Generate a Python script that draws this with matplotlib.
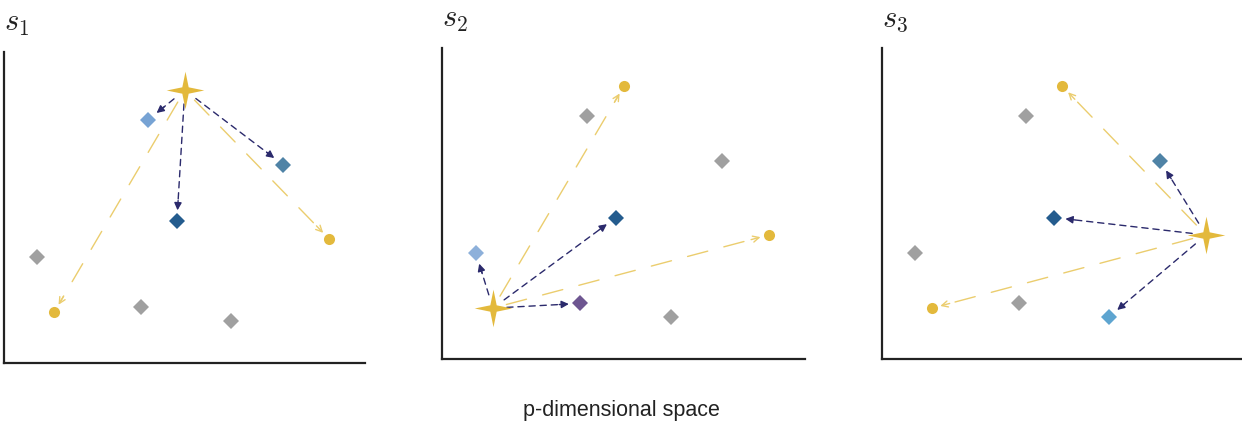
import matplotlib
matplotlib.use("Agg")
import matplotlib.pyplot as plt
import numpy as np

# Shared positions of the nine samples in the p-dimensional space (0-100 scale)
point_x = [50.1, 39.9, 77.3, 47.9, 90.0, 14.0, 9.3, 38.0, 63.0]
point_y = [87.7, 78.1, 63.7, 45.5, 39.9, 16.4, 34.1, 17.9, 13.5]

# Per-panel roles: anchor sample, its near neighbours (with colours), far samples
panel_titles = [r"$s_1$", r"$s_2$", r"$s_3$"]
anchors = [0, 5, 4]
near_idx = [[1, 3, 2], [6, 3, 7], [2, 3, 8]]
near_colors = [["#77a3d4", "#245c8e", "#4f83a6"],
               ["#8db0da", "#245c8e", "#6e5691"],
               ["#4f83a6", "#245c8e", "#5ea5d0"]]
far_idx = [[4, 5], [0, 4], [0, 5]]
other_idx = [[6, 7, 8], [1, 2, 8], [1, 6, 7]]

xlabel = "p-dimensional space"

GOLD = "#e3b93c"
GOLD_LINE = "#ebcd6e"
NAVY = "#2b2a6c"
GRAY = "#a0a0a0"

plt.rcParams["mathtext.fontset"] = "cm"

# four-pointed star for the anchor sample
r = 0.17
star = [(0, 1), (r, r), (1, 0), (r, -r),
        (0, -1), (-r, -r), (-1, 0), (-r, r)]


def dashed_arrow(ax, start, end, color, style, dashes, lw, shrink_a, shrink_b):
    # dashed shaft, then a solid head drawn on a short stub in points
    ax.annotate("", xy=end, xytext=start,
                arrowprops=dict(arrowstyle="-", color=color, lw=lw,
                                linestyle=(0, dashes),
                                shrinkA=shrink_a, shrinkB=shrink_b + 3),
                zorder=1)
    p0 = ax.transData.transform(start)
    p1 = ax.transData.transform(end)
    u = (p1 - p0) / np.hypot(*(p1 - p0))
    stub = shrink_b + 7
    ax.annotate("", xy=end, xytext=(-u[0] * stub, -u[1] * stub),
                textcoords="offset points",
                arrowprops=dict(arrowstyle=style, color=color, lw=lw,
                                shrinkA=0, shrinkB=shrink_b,
                                mutation_scale=11),
                zorder=2)


fig = plt.figure(figsize=(12.42, 4.25), dpi=100)
boxes = [[0.003, 0.146, 0.291, 0.732],
         [0.356, 0.155, 0.292, 0.732],
         [0.710, 0.155, 0.290, 0.732]]

for k in range(3):
    ax = fig.add_axes(boxes[k])
    ax.set_xlim(0, 100)
    ax.set_ylim(0, 100)
    for side in ["top", "right"]:
        ax.spines[side].set_visible(False)
    for side in ["left", "bottom"]:
        ax.spines[side].set_linewidth(1.6)
        ax.spines[side].set_color("#222222")
    ax.set_xticks([])
    ax.set_yticks([])

    a = anchors[k]
    anchor = (point_x[a], point_y[a])

    # far samples: gold, long dashes
    for j in far_idx[k]:
        dashed_arrow(ax, anchor, (point_x[j], point_y[j]), GOLD_LINE, "->",
                     (15, 12), 1.0, 10, 6)
    # near neighbours: navy, short dashes
    for j in near_idx[k]:
        dashed_arrow(ax, anchor, (point_x[j], point_y[j]), NAVY, "-|>",
                     (4.5, 3.5), 1.0, 10, 8)

    ax.plot([point_x[j] for j in other_idx[k]],
            [point_y[j] for j in other_idx[k]],
            "D", color=GRAY, markersize=8.5, markeredgewidth=0, zorder=3)
    for j, c in zip(near_idx[k], near_colors[k]):
        ax.plot(point_x[j], point_y[j], "D", color=c, markersize=8.5,
                markeredgewidth=0, zorder=3)
    ax.plot([point_x[j] for j in far_idx[k]],
            [point_y[j] for j in far_idx[k]],
            "o", color=GOLD, markersize=8, markeredgewidth=0, zorder=3)
    ax.plot(anchor[0], anchor[1], marker=star, color=GOLD, markersize=27,
            markeredgewidth=0, zorder=4)

    ax.text(0.0, 1.045, panel_titles[k], transform=ax.transAxes,
            fontsize=22, ha="left", va="bottom", color="#222222")

fig.text(0.5, 0.033, xlabel, ha="center", va="center", fontsize=15.5,
         family="Liberation Sans", color="#222222")

fig.savefig("out.png", dpi=100)
